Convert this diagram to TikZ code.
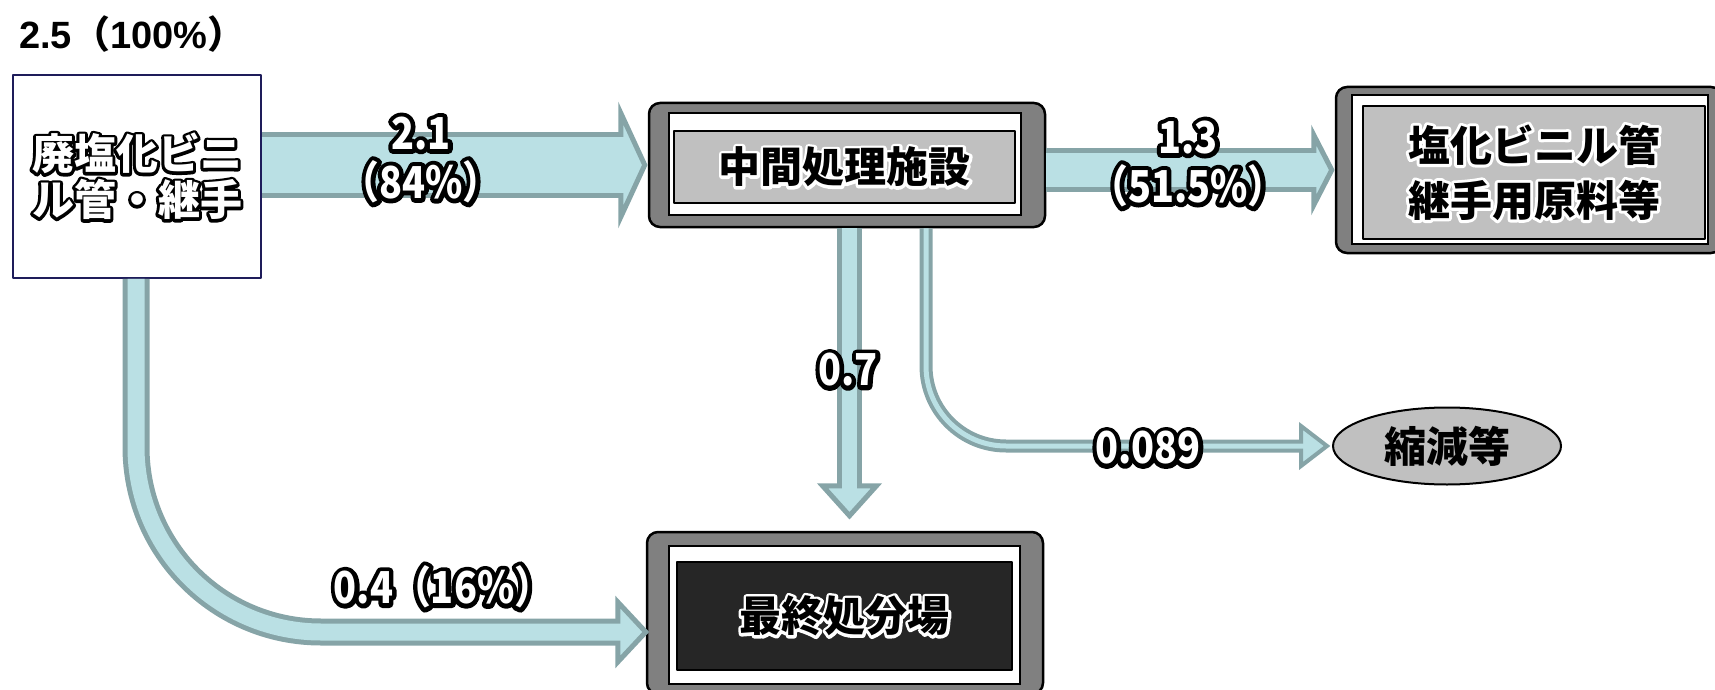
\documentclass[tikz,border=0pt]{standalone}
\usepackage{fontspec}
\setmainfont{Noto Sans CJK JP}
\newfontfamily\arialb{Liberation Sans}
\newfontfamily\jpS{Noto Sans CJK JP}[BoldFeatures={FakeBold=14}]
\newfontfamily\jpL{Noto Sans CJK JP}[FakeStretch=0.86]
\newfontfamily\jpLS{Noto Sans CJK JP}[FakeStretch=0.86,BoldFeatures={FakeBold=20}]
\usetikzlibrary{calc,shapes.geometric}
\definecolor{afill}{RGB}{186,224,228}
\definecolor{aline}{RGB}{134,164,167}
\definecolor{boxgray}{RGB}{128,128,128}
\definecolor{ingray}{RGB}{192,192,192}
\definecolor{indark}{RGB}{38,38,38}
\definecolor{navy}{RGB}{30,28,90}
\newcommand\glowW[1]{\makebox[0pt][l]{\color{black}\jpLS\bfseries #1}{\color{white}\jpL\bfseries #1}}
\newcommand\glowWb[1]{\makebox[0pt][l]{\color{black}\jpS\bfseries #1}{\color{white}\bfseries #1}}
\newcommand\glowBk[1]{\makebox[0pt][l]{\color{white}\jpS\bfseries #1}{\color{black}\bfseries #1}}
\tikzset{
  outerbox/.style={draw=black, line width=2.5, fill=boxgray, rounded corners=11, inner sep=0},
  whitebox/.style={draw=black, line width=1.5, fill=white, inner sep=0},
  graybox/.style={draw=black, line width=1.5, fill=ingray, inner sep=0, line join=round},
  darkbox/.style={draw=black, line width=1.5, fill=indark, inner sep=0, line join=round},
  boxtext/.style={font=\fontsize{42}{55}\selectfont, align=center},
  lbl/.style={inner sep=0, align=center, font=\fontsize{44}{49}\selectfont, line join=round},
  shaftout/.style={draw=aline, line width=#1},
  shaftin/.style={draw=afill, line width=#1},
  ahead/.style={fill=afill, draw=aline, line width=#1, line join=miter},
}
\begin{document}
\begin{tikzpicture}[x=1pt,y=-1pt]
\useasboundingbox (0,0) rectangle (1715,690);
\clip (0,0) rectangle (1715,690);

% boxes
\node[draw=navy, line width=1.5, fill=white, minimum width=248, minimum height=203, inner sep=0,
      line join=round, align=center, font=\fontsize{42}{46}\selectfont] (src) at (137,176.5)
      {\glowWb{廃塩化ビニ}\\\glowWb{ル管・継手}};

\node[outerbox, minimum width=396, minimum height=124] (mid) at (847,165) {};
\node[whitebox, minimum width=352, minimum height=102] (midw) at (845,164) {};
\node[graybox, boxtext, minimum width=341, minimum height=72] (midg) at (844.5,167) {\glowBk{中間処理施設}};

\node[outerbox, minimum width=386, minimum height=166] (tgt) at (1529,170) {};
\node[whitebox, minimum width=356, minimum height=149] (tgtw) at (1530,169.5) {};
\node[graybox, boxtext, minimum width=342, minimum height=133] (tgtg) at (1534,172.5)
      {\glowBk{塩化ビニル管}\\\glowBk{継手用原料等}};

\node[outerbox, minimum width=396, minimum height=162] (fin) at (845,613) {};
\node[whitebox, minimum width=351, minimum height=138] (finw) at (844.5,615) {};
\node[darkbox, boxtext, minimum width=335, minimum height=108] (fing) at (844.5,616) {\glowBk{最終処分場}};

\node[ellipse, draw=black, line width=2, fill=ingray, minimum width=228, minimum height=77, inner sep=0,
      font=\fontsize{42}{46}\selectfont\bfseries] (red) at (1447,446) {縮減等};

% arrow A1: src -> mid
\coordinate (a1s) at (src.east |- mid.west);
\coordinate (a1t) at (mid.west);
\draw[shaftout=65] (a1s) -- ($(a1t)+(-26,0)$);
\filldraw[ahead=5] ($(a1t)+(-27,-52)$) -- ($(a1t)+(-3,0)$) -- ($(a1t)+(-27,52)$) -- cycle;
\draw[shaftin=55] (a1s) -- ($(a1t)+(-24,0)$);

% arrow A2: mid -> tgt
\coordinate (a2s) at (mid.east |- tgt.west);
\coordinate (a2t) at (tgt.west);
\draw[shaftout=44] (a2s) -- ($(a2t)+(-20,0)$);
\filldraw[ahead=5] ($(a2t)+(-21,-35)$) -- ($(a2t)+(-3,0)$) -- ($(a2t)+(-21,35)$) -- cycle;
\draw[shaftin=34] (a2s) -- ($(a2t)+(-18,0)$);

% arrow A3: mid -> fin
\coordinate (a3s) at ($(mid.south)+(2.5,0)$);
\coordinate (a3t) at ($(fin.north)+(4.5,-12)$);
\draw[shaftout=25] (a3s) -- ($(a3t)+(0,-32)$);
\filldraw[ahead=5] ($(a3t)+(-27,-33)$) -- ($(a3t)+(0,-3)$) -- ($(a3t)+(27,-33)$) -- cycle;
\draw[shaftin=15] (a3s) -- ($(a3t)+(0,-30)$);

% arrow A4: mid -> red (thin, curved)
\coordinate (a4s) at ($(mid.south)+(79,0)$);
\coordinate (a4t) at ($(red.west)+(-3,0)$);
\draw[shaftout=13, rounded corners=80] (a4s) -- (a4s |- a4t) -- ($(a4t)+(-28,0)$);
\filldraw[ahead=4] ($(a4t)+(-28,-20)$) -- ($(a4t)+(-2,0)$) -- ($(a4t)+(-28,20)$) -- cycle;
\draw[shaftin=5, rounded corners=80] (a4s) -- (a4s |- a4t) -- ($(a4t)+(-25,0)$);

% arrow A5: src -> fin (curved)
\coordinate (a5s) at ($(src.south)+(-1,0)$);
\coordinate (a5t) at ($(fin.west)+(3,19)$);
\draw[shaftout=27, rounded corners=185] (a5s) -- (a5s |- a5t) -- ($(a5t)+(-30,0)$);
\filldraw[ahead=5] ($(a5t)+(-31,-30)$) -- ($(a5t)+(-3,0)$) -- ($(a5t)+(-31,30)$) -- cycle;
\draw[shaftin=17, rounded corners=185] (a5s) -- (a5s |- a5t) -- ($(a5t)+(-28,0)$);

% labels
\node[lbl] (l1) at (421,160) {\glowW{2.1}\\\glowW{（84\%）}};
\node[lbl] (l2) at (1188,164) {\glowW{1.3}\\\glowW{（51.5\%）}};
\node[lbl] (l3) at (848,370) {\glowW{0.7}};
\node[lbl] (l4) at (1148,448) {\glowW{0.089}};
\node[lbl] (l5) at (443,587) {\glowW{0.4（16\%）}};

\node[anchor=west, inner sep=0, font=\fontsize{38}{42}\selectfont\bfseries] (total) at (19,34)
      {{\arialb 2.5}（{\arialb 100\%}）};
\node[anchor=base west, inner sep=0, font=\fontsize{40}{44}\selectfont\bfseries] (unit) at (1515,-3) {単位：万t};
\end{tikzpicture}
\end{document}
